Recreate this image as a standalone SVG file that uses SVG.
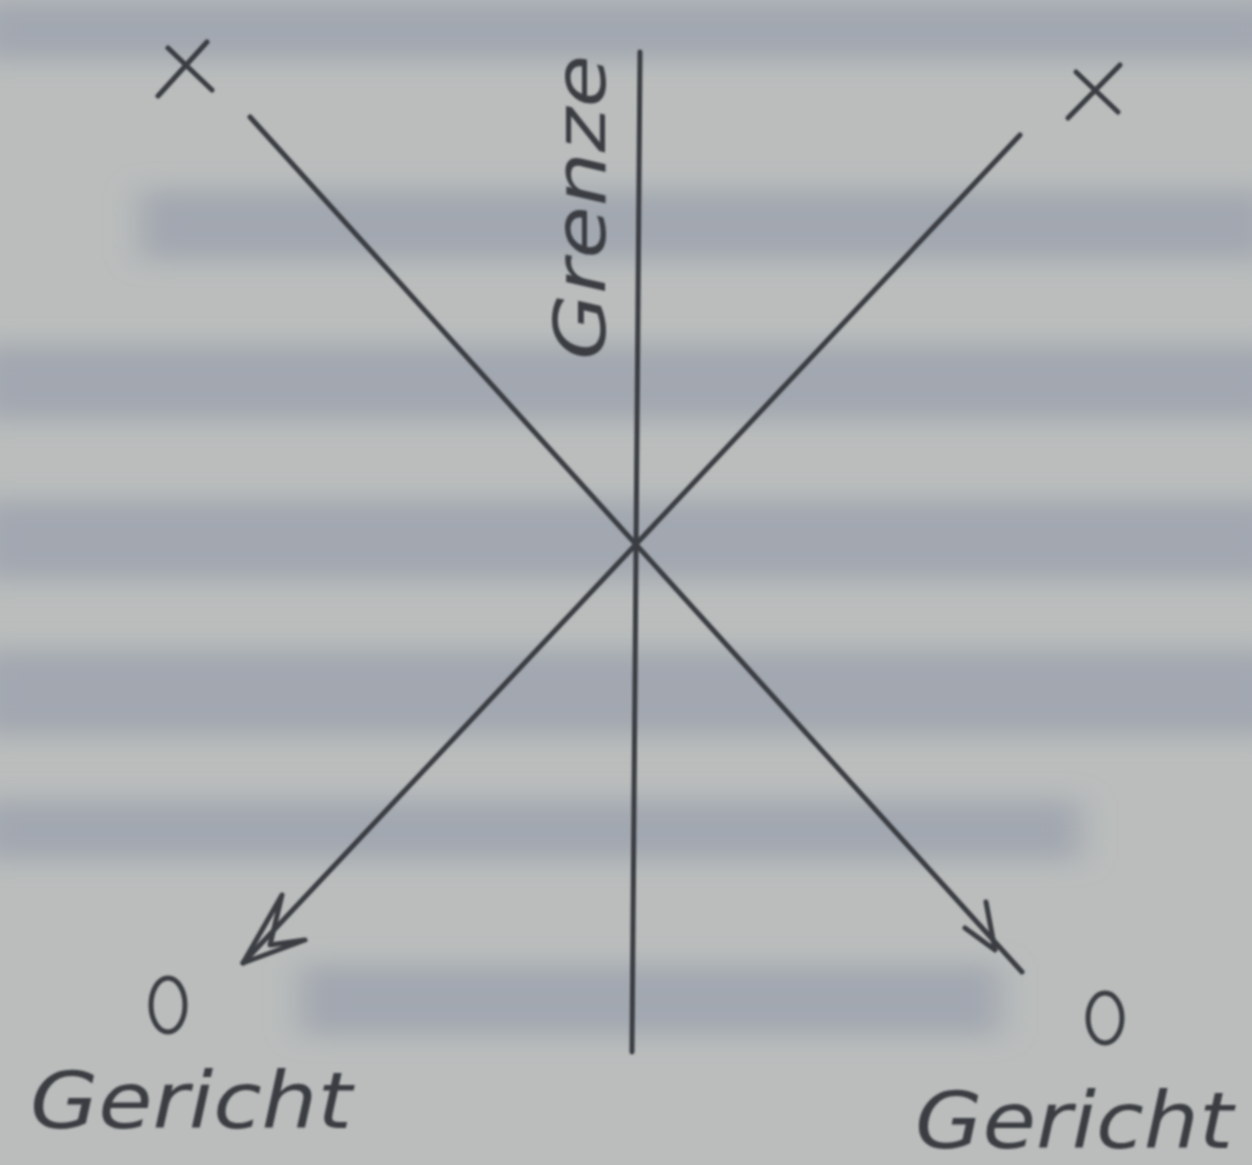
<svg xmlns="http://www.w3.org/2000/svg" width="1252" height="1165" viewBox="0 0 1252 1165">
<defs>
<filter id="blur" x="-5%" y="-50%" width="110%" height="200%"><feGaussianBlur stdDeviation="16 12"/></filter>
<filter id="soft"><feGaussianBlur stdDeviation="1.1"/></filter>
</defs>
<style>
.ink{stroke:#3a3d42;stroke-width:5;fill:none;stroke-linecap:round;stroke-linejoin:round}
.txt{font-family:"DejaVu Sans",sans-serif;font-style:italic;fill:#3a3d42}
</style>
<rect width="1252" height="1165" fill="#babdbc"/>
<g id="background-text" filter="url(#blur)" fill="#a2a7b0">
<rect x="-20" y="0" width="1300" height="60"/>
<rect x="140" y="190" width="1130" height="70"/>
<rect x="-20" y="345" width="1300" height="75"/>
<rect x="-20" y="500" width="1300" height="80"/>
<rect x="-20" y="650" width="1300" height="85"/>
<rect x="-20" y="800" width="1100" height="60"/>
<rect x="300" y="965" width="700" height="70"/>
</g>
<g filter="url(#soft)">
<g id="connectors">
<line class="ink" x1="640" y1="52" x2="632" y2="1052" stroke-width="4"/>
<line class="ink" x1="250" y1="117" x2="1022" y2="972"/>
<polyline class="ink" points="965,928 995,950 986,902"/>
<line class="ink" x1="1020" y1="135" x2="243" y2="963"/>
<polygon class="ink" points="282,895 243,963 305,940 270,945" fill="#3a3d42"/>
</g>
<g id="x-left"><path class="ink" d="M168,48 L212,90 M207,42 L158,96"/></g>
<g id="x-right"><path class="ink" d="M1076,72 L1118,112 M1120,65 L1068,118"/></g>
<g id="o-left"><ellipse class="ink" cx="168" cy="1005" rx="17" ry="27"/></g>
<g id="o-right"><ellipse class="ink" cx="1105" cy="1018" rx="17" ry="25"/></g>
<g id="grenze"><text class="txt" transform="translate(605,360) rotate(-90)" font-size="72" textLength="305" lengthAdjust="spacingAndGlyphs">Grenze</text></g>
<g id="gericht-left"><text class="txt" x="30" y="1128" font-size="78" textLength="322" lengthAdjust="spacingAndGlyphs">Gericht</text></g>
<g id="gericht-right"><text class="txt" x="915" y="1148" font-size="78" textLength="318" lengthAdjust="spacingAndGlyphs">Gericht</text></g>
</g>
</svg>
